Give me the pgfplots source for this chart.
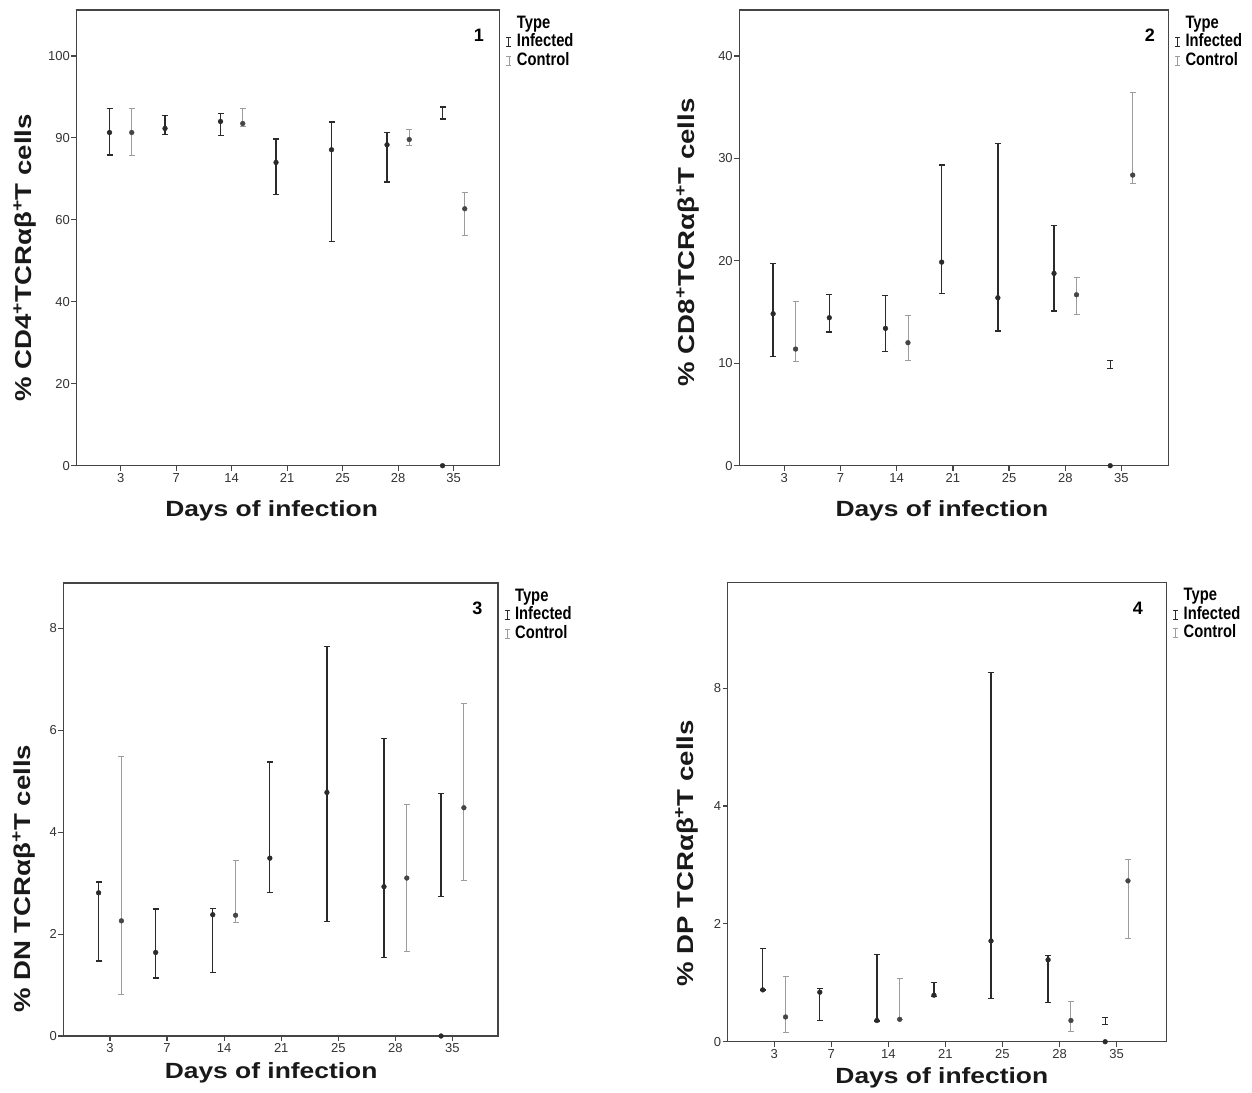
\documentclass[border=0pt]{standalone}
\usepackage{fontspec}
\setmainfont{Liberation Sans}
\usepackage{pgfplots}
\pgfplotsset{compat=1.18}
\usepackage{pgfplotstable}
\usepackage{graphicx}

\definecolor{inf}{HTML}{2A2A2A}
\definecolor{ctl}{HTML}{9C9C9C}
\definecolor{ctlm}{HTML}{454545}
\definecolor{frame}{HTML}{454545}

% ---------- Panel 1: % CD4+ ----------
\pgfplotstableread{
x m lo hi
0.8 81.3 75.8 87.1
1.8 82.3 80.8 85.5
2.8 84.0 80.6 86.0
3.8 74.0 66.2 79.7
4.8 77.1 54.7 83.9
5.8 78.3 69.2 81.3
6.8 0 84.6 87.5
}\infA
\pgfplotstableread{
x m lo hi
1.2 81.3 75.8 87.1
3.2 83.5 82.7 87.1
6.2 79.6 78.1 82.0
7.2 62.7 56.3 66.8
}\ctlA
% ---------- Panel 2: % CD8+ ----------
\pgfplotstableread{
x m lo hi
0.8 14.84 10.67 19.75
1.8 14.45 13.05 16.69
2.8 13.41 11.16 16.63
3.8 19.88 16.82 29.35
4.8 16.40 13.15 31.47
5.8 18.78 15.10 23.46
6.8 0 9.47 10.25
}\infB
\pgfplotstableread{
x m lo hi
1.2 11.39 10.15 16.01
3.2 12.01 10.28 14.68
6.2 16.69 14.77 18.42
7.2 28.38 27.60 36.48
}\ctlB
% ---------- Panel 3: % DN ----------
\pgfplotstableread{
x m lo hi
0.8 2.81 1.47 3.02
1.8 1.64 1.14 2.49
2.8 2.38 1.24 2.50
3.8 3.49 2.81 5.38
4.8 4.78 2.25 7.65
5.8 2.93 1.54 5.84
6.8 0 2.74 4.76
}\infC
\pgfplotstableread{
x m lo hi
1.2 2.26 0.82 5.48
3.2 2.37 2.22 3.44
6.2 3.10 1.66 4.54
7.2 4.48 3.06 6.52
}\ctlC
% ---------- Panel 4: % DP ----------
\pgfplotstableread{
x m lo hi
0.8 0.88 0.88 1.58
1.8 0.84 0.36 0.90
2.8 0.36 0.35 1.48
3.8 0.79 0.77 1.00
4.8 1.71 0.73 6.27
5.8 1.39 0.67 1.46
6.8 0 0.29 0.41
}\infD
\pgfplotstableread{
x m lo hi
1.2 0.42 0.16 1.10
3.2 0.38 0.38 1.07
6.2 0.36 0.18 0.69
7.2 2.73 1.75 3.09
}\ctlD

\newcommand{\bars}[3]{%
  \addplot[forget plot, only marks, mark=*, mark options={opacity=0},
    error bars/.cd, y dir=both, y explicit, error mark=-,
    error bar style={color=#2, line width=#3},
    error mark options={rotate=90, color=#2, line width=#3, mark size=3pt}]
    table[x=x, y expr={(\thisrow{lo}+\thisrow{hi})/2},
          y error expr={(\thisrow{hi}-\thisrow{lo})/2}] {#1};}
\newcommand{\means}[2]{%
  \addplot[forget plot, only marks, mark=*, mark size=2.4pt, color=#2] table[x=x, y=m] {#1};}
\newcommand{\typelegend}{%
  \addlegendimage{empty legend}\addlegendentry{\scalebox{0.82}[1]{Type}}
  \addlegendimage{legend image code/.code={\draw[inf, line width=1pt] (0pt,-4.5pt)--(0pt,4.5pt) (-2.5pt,-4.5pt)--(2.5pt,-4.5pt) (-2.5pt,4.5pt)--(2.5pt,4.5pt); \path[draw=none] (-2.5pt,0pt)--(7pt,0pt);}}
  \addlegendentry{\scalebox{0.82}[1]{Infected}}
  \addlegendimage{legend image code/.code={\draw[ctl, line width=0.8pt] (0pt,-4.5pt)--(0pt,4.5pt) (-2.5pt,-4.5pt)--(2.5pt,-4.5pt) (-2.5pt,4.5pt)--(2.5pt,4.5pt); \path[draw=none] (-2.5pt,0pt)--(7pt,0pt);}}
  \addlegendentry{\scalebox{0.82}[1]{Control}}}

\pgfplotsset{
  panel/.style={
    scale only axis, clip=false, anchor=south west,
    xtick={1,2,3,4,5,6,7}, xticklabels={3,7,14,21,25,28,35},
    tick align=outside, xtick pos=bottom, ytick pos=left,
    major tick length=5pt,
    axis line style={line width=1.3pt, color=frame},
    every tick/.style={line width=1.2pt, color=frame},
    ticklabel style={font=\fontsize{13}{13}\selectfont, text=black!80},
    xticklabel style={inner sep=1.5pt, yshift=-1pt},
    yticklabel style={inner sep=1.5pt},
    xlabel style={anchor=center, font=\fontsize{22}{22}\selectfont\bfseries, text=black!90},
    ylabel style={anchor=center, font=\fontsize{23}{23}\selectfont\bfseries, text=black!90},
    legend style={at={(axis description cs:1,1)}, anchor=north west, xshift=6pt, yshift=-4pt,
      draw=none, fill=none, inner sep=0pt, row sep=0pt,
      font=\fontsize{18}{18}\selectfont\bfseries,
      nodes={inner sep=1pt, text height=13pt, text depth=3.5pt}},
    legend cell align=left,
    legend image code/.code={},
  }
}

\begin{document}
\begin{tikzpicture}
\useasboundingbox (0,0) rectangle (1252pt,-1092pt);

% Panel 1
\begin{axis}[panel, at={(76.5pt,-465.7pt)}, width=423.2pt, height=455.7pt,
  xmin=0.205, xmax=7.83, ymin=0, ymax=111.2,
  ytick={0,20,40,60,80,100}, yticklabels={0,20,40,60,90,100},
  xlabel={\scalebox{1.2}[1]{Days of infection}},
  ylabel={\scalebox{1.2}[1]{\% CD4\textsuperscript{+}TCRαβ\textsuperscript{+}T cells}},
  xlabel style={at={(axis description cs:0.461,-0.1)}},
  ylabel style={at={(axis description cs:-0.1217,0.456)}}]
  \typelegend
  \bars{\infA}{inf}{1.3pt}
  \bars{\ctlA}{ctl}{0.9pt}
  \means{\infA}{inf}
  \means{\ctlA}{ctlm}
  \node[font=\fontsize{18}{18}\selectfont\bfseries] at (axis description cs:0.951,0.945) {1};
\end{axis}

% Panel 2
\begin{axis}[panel, at={(739.4pt,-465.7pt)}, width=428.9pt, height=455.7pt,
  xmin=0.2, xmax=7.834, ymin=0, ymax=44.5,
  ytick={0,10,20,30,40}, yticklabels={0,10,20,30,40},
  xlabel={\scalebox{1.2}[1]{Days of infection}},
  ylabel={\scalebox{1.2}[1]{\% CD8\textsuperscript{+}TCRαβ\textsuperscript{+}T cells}},
  xlabel style={at={(axis description cs:0.472,-0.1)}},
  ylabel style={at={(axis description cs:-0.1198,0.49)}}]
  \typelegend
  \bars{\infB}{inf}{1.3pt}
  \bars{\ctlB}{ctl}{0.9pt}
  \means{\infB}{inf}
  \means{\ctlB}{ctlm}
  \node[font=\fontsize{18}{18}\selectfont\bfseries] at (axis description cs:0.957,0.945) {2};
\end{axis}

% Panel 3
\begin{axis}[panel, at={(63.5pt,-1036pt)}, width=434.4pt, height=453pt,
  xmin=0.185, xmax=7.796, ymin=0, ymax=8.89,
  ytick={0,2,4,6,8}, yticklabels={0,2,4,6,8},
  xlabel={\scalebox{1.2}[1]{Days of infection}},
  ylabel={\scalebox{1.2}[1]{\% DN TCRαβ\textsuperscript{+}T cells}},
  xlabel style={at={(axis description cs:0.478,-0.0817)}},
  ylabel style={at={(axis description cs:-0.0909,0.347)}}]
  \typelegend
  \bars{\infC}{inf}{1.3pt}
  \bars{\ctlC}{ctl}{0.9pt}
  \means{\infC}{inf}
  \means{\ctlC}{ctlm}
  \node[font=\fontsize{18}{18}\selectfont\bfseries] at (axis description cs:0.953,0.945) {3};
\end{axis}

% Panel 4
\begin{axis}[panel, at={(727.7pt,-1041.7pt)}, width=438.8pt, height=459pt,
  xmin=0.186, xmax=7.875, ymin=0, ymax=7.79,
  ytick={0,2,4,6}, yticklabels={0,2,4,8},
  xlabel={\scalebox{1.2}[1]{Days of infection}},
  ylabel={\scalebox{1.2}[1]{\% DP TCRαβ\textsuperscript{+}T cells}},
  xlabel style={at={(axis description cs:0.488,-0.0784)}},
  ylabel style={at={(axis description cs:-0.0934,0.41)}}]
  \typelegend
  \bars{\infD}{inf}{1.3pt}
  \bars{\ctlD}{ctl}{0.9pt}
  \means{\infD}{inf}
  \means{\ctlD}{ctlm}
  \node[font=\fontsize{18}{18}\selectfont\bfseries] at (axis description cs:0.935,0.945) {4};
\end{axis}
\end{tikzpicture}
\end{document}
